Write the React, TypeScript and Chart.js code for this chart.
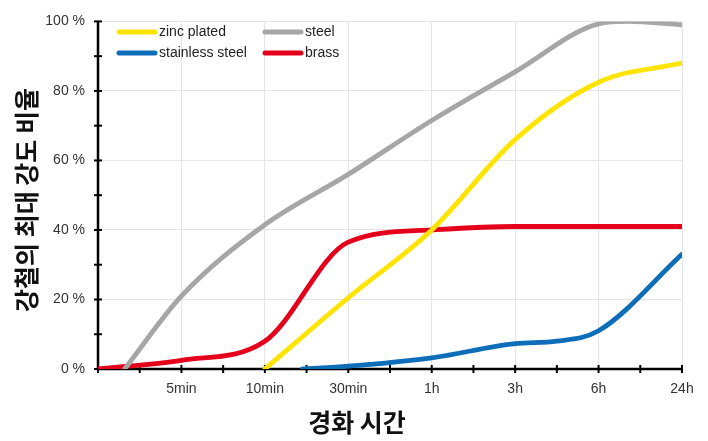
import React, { useEffect, useRef } from "react";
import { Chart, registerables } from "chart.js";

Chart.register(...registerables);

const xLabels = ["", "5min", "10min", "30min", "1h", "3h", "6h", "24h"];

const zincX = [2, 3, 4, 5, 6, 7];
const zincY = [0, 20.5, 40, 66, 82.5, 88];

const steelX = [0.32, 1, 2, 3, 4, 5, 6, 6.35, 7];
const steelY = [0, 21, 41.5, 56, 71.5, 85.5, 99.3, 100, 99];

const stainlessX = [2.45, 3, 4, 5, 5.5, 6, 7];
const stainlessY = [0, 0.8, 3.2, 7.3, 8, 11, 33];

const brassX = [0, 1, 2, 3, 4, 5, 6, 7];
const brassY = [0, 2.5, 8, 36.5, 40, 41, 41, 41];

const seriesNames = ["zinc plated", "steel", "stainless steel", "brass"];
const seriesColors = ["#FFE400", "#A6A6A6", "#0C6DB8", "#E4001B"];

const yTitle = "강철의 최대 강도 비율";
const xTitle = "경화 시간";

const toPoints = (xs: number[], ys: number[]) => xs.map((x, i) => ({ x, y: ys[i] }));

const axesPlugin = {
  id: "customAxes",
  beforeDatasetsDraw(chart: any) {
    const { ctx, chartArea, scales } = chart;
    const xs = scales.x;
    const ys = scales.y;
    ctx.save();
    ctx.strokeStyle = "#000";
    ctx.lineWidth = 2.5;
    ctx.lineCap = "butt";
    ctx.beginPath();
    ctx.moveTo(chartArea.left, chartArea.top);
    ctx.lineTo(chartArea.left, chartArea.bottom);
    ctx.lineTo(chartArea.right, chartArea.bottom);
    ctx.stroke();
    ctx.lineWidth = 2;
    for (let v = 0; v <= 100; v += 10) {
      const py = ys.getPixelForValue(v);
      ctx.beginPath();
      ctx.moveTo(chartArea.left - 4, py);
      ctx.lineTo(chartArea.left + 4, py);
      ctx.stroke();
    }
    for (let v = 0; v <= 7; v += 0.5) {
      const px = xs.getPixelForValue(v);
      ctx.beginPath();
      ctx.moveTo(px, chartArea.bottom - 4);
      ctx.lineTo(px, chartArea.bottom + 4);
      ctx.stroke();
    }
    ctx.restore();
  },
  afterDraw(chart: any) {
    const { ctx } = chart;
    ctx.save();
    // legend
    const cols = [117, 263];
    const rows = [32, 53];
    ctx.font = "14px 'Liberation Sans', Arial, sans-serif";
    ctx.textBaseline = "middle";
    ctx.textAlign = "left";
    seriesNames.forEach((name, i) => {
      const cx = cols[i % 2];
      const cy = rows[Math.floor(i / 2)];
      ctx.strokeStyle = seriesColors[i];
      ctx.lineWidth = 5;
      ctx.lineCap = "round";
      ctx.beginPath();
      ctx.moveTo(cx + 2, cy);
      ctx.lineTo(cx + 38, cy);
      ctx.stroke();
      ctx.fillStyle = "#222";
      ctx.fillText(name, cx + 42, cy + 0.5);
    });
    // titles
    ctx.fillStyle = "#111";
    ctx.font = "bold 25px 'Noto Sans CJK KR', sans-serif";
    ctx.textAlign = "center";
    ctx.textBaseline = "middle";
    ctx.fillText(xTitle, 357, 422);
    ctx.translate(26, 200);
    ctx.rotate(-Math.PI / 2);
    ctx.fillText(yTitle, 0, 0);
    ctx.restore();
  },
};

export default function App() {
  const ref = useRef<HTMLCanvasElement | null>(null);
  useEffect(() => {
    document.body.style.margin = "0";
    const canvas = ref.current;
    if (!canvas) return;
    const mk = (i: number, xs: number[], ys: number[]) => ({
      label: seriesNames[i],
      data: toPoints(xs, ys),
      borderColor: seriesColors[i],
      backgroundColor: seriesColors[i],
      borderWidth: 4.8,
      pointRadius: 0,
      fill: false,
      cubicInterpolationMode: "monotone" as const,
      borderCapStyle: "round" as const,
    });
    const chart = new Chart(canvas, {
      type: "line",
      data: {
        datasets: [
          mk(1, steelX, steelY),
          mk(0, zincX, zincY),
          mk(3, brassX, brassY),
          mk(2, stainlessX, stainlessY),
        ],
      },
      options: {
        responsive: false,
        animation: false,
        layout: { padding: { top: 10, right: 26, left: 0, bottom: 0 } },
        plugins: { legend: { display: false }, tooltip: { enabled: false } },
        scales: {
          x: {
            type: "linear",
            min: 0,
            max: 7,
            ticks: {
              stepSize: 1,
              autoSkip: false,
              maxRotation: 0,
              padding: 12,
              color: "#333",
              font: { family: "'Liberation Sans', Arial, sans-serif", size: 14 },
              callback: (v: any) => xLabels[Number(v)] ?? "",
            },
            grid: { color: "#e4e4e4", lineWidth: 1, drawTicks: false },
            border: { display: false },
            afterFit: (s: any) => {
              s.height = 72;
            },
          },
          y: {
            min: 0,
            max: 100,
            ticks: {
              stepSize: 20,
              padding: 13,
              color: "#333",
              font: { family: "'Liberation Sans', Arial, sans-serif", size: 14 },
              callback: (v: any) => `${v} %`,
            },
            grid: { color: "#e4e4e4", lineWidth: 1, drawTicks: false },
            border: { display: false },
            afterFit: (s: any) => {
              s.width = 98;
            },
          },
        },
      },
      plugins: [axesPlugin],
    });
    return () => chart.destroy();
  }, []);
  return (
    <div style={{ position: "absolute", left: 0, top: 0, width: 708, height: 441 }}>
      <canvas ref={ref} width={708} height={441} />
    </div>
  );
}
